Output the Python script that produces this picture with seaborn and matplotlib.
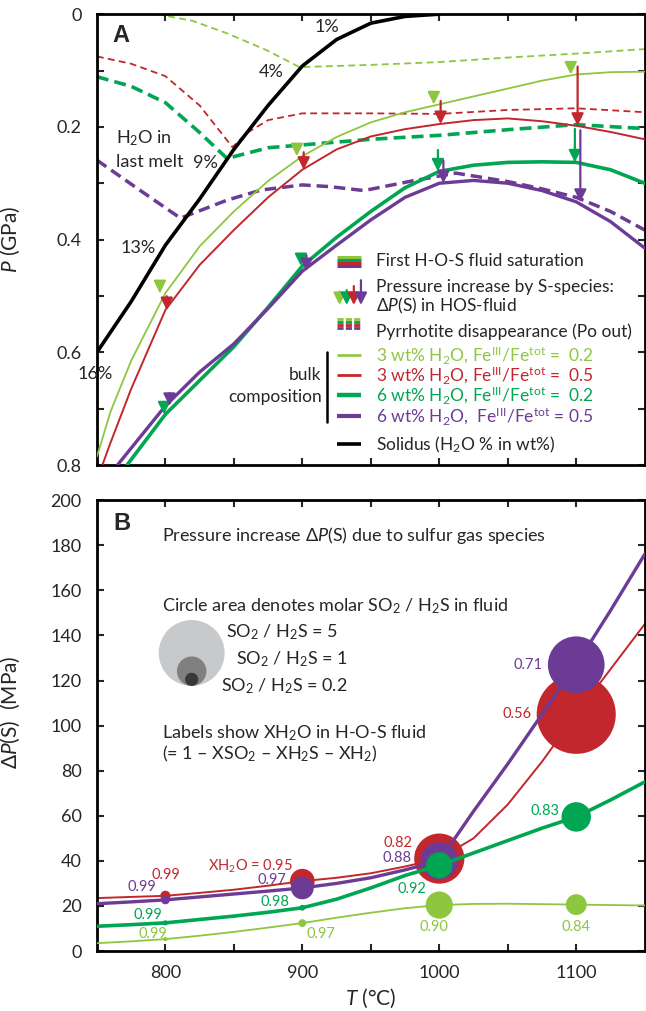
import numpy as np
import matplotlib
matplotlib.use("Agg")
import matplotlib.pyplot as plt
import matplotlib.transforms as mtransforms
from matplotlib.lines import Line2D
import seaborn as sns

# colours of the four bulk compositions
LGREEN = "#8DC63F"
RED = "#C1272D"
GREEN = "#00A651"
PURPLE = "#6C3B96"

# ---------------- panel A : P-T diagram ----------------
# solidus (GPa)
solidus_T = [750, 775, 800, 825, 850, 875, 900, 925, 950, 975, 1000]
solidus_P = [0.600, 0.510, 0.410, 0.328, 0.240, 0.162, 0.092, 0.045, 0.016, 0.004, 0.0]

# first H-O-S fluid saturation (solid lines)
lg_sat_T = [750, 760, 775, 800, 825, 850, 875, 900, 925, 950, 975, 1000, 1025, 1050, 1075, 1100, 1125, 1150]
lg_sat_P = [0.785, 0.705, 0.615, 0.495, 0.412, 0.350, 0.296, 0.252, 0.218, 0.192, 0.174, 0.160, 0.146, 0.132, 0.118, 0.107, 0.103, 0.102]
rd_sat_T = [754, 760, 775, 800, 825, 850, 875, 900, 925, 950, 975, 1000, 1025, 1050, 1075, 1100, 1125, 1150]
rd_sat_P = [0.800, 0.760, 0.665, 0.525, 0.445, 0.383, 0.325, 0.276, 0.240, 0.217, 0.204, 0.195, 0.188, 0.185, 0.190, 0.198, 0.209, 0.222]
gr_sat_T = [772, 800, 825, 850, 875, 900, 925, 950, 975, 1000, 1025, 1050, 1075, 1100, 1125, 1150]
gr_sat_P = [0.800, 0.710, 0.650, 0.590, 0.520, 0.447, 0.396, 0.350, 0.308, 0.279, 0.268, 0.263, 0.262, 0.263, 0.276, 0.300]
pu_sat_T = [765, 775, 800, 825, 850, 875, 900, 925, 950, 975, 1000, 1025, 1050, 1075, 1100, 1125, 1150]
pu_sat_P = [0.800, 0.770, 0.695, 0.635, 0.585, 0.522, 0.456, 0.410, 0.365, 0.325, 0.300, 0.295, 0.300, 0.313, 0.333, 0.368, 0.415]

# pyrrhotite disappearance (dashed lines)
lg_po_T = [794, 820, 845, 874, 898, 950, 1000, 1050, 1100, 1150]
lg_po_P = [0.000, 0.012, 0.034, 0.064, 0.094, 0.090, 0.085, 0.077, 0.070, 0.062]
rd_po_T = [750, 775, 800, 825, 849, 860, 875, 900, 950, 1000, 1050, 1100, 1150]
rd_po_P = [0.075, 0.088, 0.110, 0.162, 0.236, 0.210, 0.188, 0.176, 0.176, 0.177, 0.170, 0.167, 0.174]
gr_po_T = [750, 775, 800, 825, 845, 875, 900, 950, 1000, 1050, 1100, 1150]
gr_po_P = [0.111, 0.128, 0.157, 0.210, 0.256, 0.237, 0.232, 0.222, 0.215, 0.205, 0.196, 0.203]
pu_po_T = [750, 780, 811, 845, 870, 900, 920, 945, 980, 1012, 1050, 1075, 1100, 1125, 1150]
pu_po_P = [0.259, 0.310, 0.362, 0.330, 0.312, 0.303, 0.306, 0.313, 0.296, 0.282, 0.297, 0.310, 0.325, 0.350, 0.383]

# ---------------- panel B : pressure increase ----------------
bT = [750, 775, 800, 825, 850, 875, 900, 925, 950, 975, 1000, 1025, 1050, 1075, 1100, 1125, 1150]
lg_dP = [3.5, 4.3, 5.3, 6.8, 8.5, 10.4, 12.4, 14.8, 17.0, 19.0, 20.4, 20.9, 21.0, 20.8, 20.6, 20.4, 20.2]
gr_dP = [11.0, 11.7, 12.5, 14.0, 15.5, 17.2, 19.2, 23.0, 28.0, 33.5, 38.0, 43.5, 49.0, 54.5, 59.5, 67.0, 75.0]
rd_dP = [23.5, 24.0, 24.5, 25.8, 27.2, 29.0, 31.0, 32.5, 34.5, 37.5, 41.0, 50.0, 65.0, 84.0, 105.0, 125.0, 145.0]
pu_dP = [21.0, 21.8, 22.7, 24.0, 25.3, 26.6, 28.0, 30.0, 32.5, 36.0, 40.0, 62.0, 83.0, 105.0, 127.0, 151.0, 176.0]

circ_T = [800, 900, 1000, 1100]
lg_ratio = [0.02, 0.07, 0.85, 0.50]
gr_ratio = [0.03, 0.04, 0.80, 1.00]
rd_ratio = [0.12, 0.70, 2.90, 7.20]
pu_ratio = [0.09, 0.60, 1.60, 3.70]

lg_xh2o = ["0.99", "0.97", "0.90", "0.84"]
gr_xh2o = ["0.99", "0.98", "0.92", "0.83"]
rd_xh2o = ["0.99", "XH$_2$O = 0.95", "0.82", "0.56"]
pu_xh2o = ["0.99", "0.97", "0.88", "0.71"]

legend_ratios = [5, 1, 0.2]

# ---------------- style ----------------
sns.set_style("ticks")
plt.rcParams["font.family"] = ["Lato", "DejaVu Sans"]
plt.rcParams["mathtext.fontset"] = "custom"
plt.rcParams["mathtext.rm"] = "Lato"
plt.rcParams["mathtext.it"] = "Lato:italic"
plt.rcParams["mathtext.bf"] = "Lato:bold"
plt.rcParams["axes.linewidth"] = 2.0
plt.rcParams["axes.edgecolor"] = "black"

S_AREA = 450  # marker area (pt^2) for SO2/H2S = 1

fig = plt.figure(figsize=(6.46, 10.11), dpi=100)
axA = fig.add_axes([0.150, 0.540, 0.848, 0.446])
axB = fig.add_axes([0.150, 0.0593, 0.848, 0.446])


def draw_curve(ax, T, y, color, lw, dashes=None, z=2):
    sns.lineplot(x=T, y=y, color=color, lw=lw, ax=ax, estimator=None,
                 sort=False, zorder=z)
    line = ax.lines[-1]
    if dashes:
        line.set_dashes(dashes)
    return line


# series table built from the arrays above
series = [
    dict(c=LGREEN, sT=lg_sat_T, sP=lg_sat_P, pT=lg_po_T, pP=lg_po_P, dP=lg_dP,
         lw=1.3, dash=(3.8, 2.4), plw=1.3, off=-4),
    dict(c=RED, sT=rd_sat_T, sP=rd_sat_P, pT=rd_po_T, pP=rd_po_P, dP=rd_dP,
         lw=1.4, dash=(3.8, 2.4), plw=1.3, off=1),
    dict(c=GREEN, sT=gr_sat_T, sP=gr_sat_P, pT=gr_po_T, pP=gr_po_P, dP=gr_dP,
         lw=2.6, dash=(3.3, 1.7), plw=2.6, off=-1),
    dict(c=PURPLE, sT=pu_sat_T, sP=pu_sat_P, pT=pu_po_T, pP=pu_po_P, dP=pu_dP,
         lw=2.4, dash=(3.3, 1.7), plw=2.5, off=3),
]

# ---------------- panel A ----------------
draw_curve(axA, solidus_T, solidus_P, "black", 2.6, z=3)
for s in series:
    draw_curve(axA, s["pT"], s["pP"], s["c"], s["plw"], dashes=s["dash"], z=2)
for s in series:
    draw_curve(axA, s["sT"], s["sP"], s["c"], s["lw"], z=4)

# pressure-increase arrows ending on the saturation curves
for s in series:
    for T in circ_T:
        tip = np.interp(T, s["sT"], s["sP"])
        dp = np.interp(T, bT, s["dP"]) / 1000.0
        axA.annotate("", xy=(T + s["off"], tip), xytext=(T + s["off"], tip - dp),
                     arrowprops=dict(arrowstyle="-|>,head_length=0.6,head_width=0.3",
                                     color=s["c"], lw=1.6, mutation_scale=12,
                                     shrinkA=0, shrinkB=0), zorder=6)

# solidus water labels
fs_lab = 13
axA.text(918, 0.023, "1%", fontsize=fs_lab, ha="center", va="center")
axA.text(877, 0.103, "4%", fontsize=fs_lab, ha="center", va="center")
axA.text(829, 0.264, "9%", fontsize=fs_lab, ha="center", va="center")
axA.text(780, 0.415, "13%", fontsize=fs_lab, ha="center", va="center")
axA.text(749, 0.639, "16%", fontsize=fs_lab, ha="center", va="center", clip_on=False)
axA.text(764, 0.220, "H$_2$O in", fontsize=fs_lab, ha="left", va="center")
axA.text(764, 0.263, "last melt", fontsize=fs_lab, ha="left", va="center")
axA.text(0.044, 0.953, "A", transform=axA.transAxes, fontsize=17, fontweight="bold",
         family="Liberation Sans", ha="center", va="center")

# custom legend (axes fraction)
tA = axA.transAxes
x0, x1, xt = 0.438, 0.483, 0.509
fs_leg = 12.5
# first saturation icon
for yy, c in zip([0.462, 0.455, 0.448, 0.441], [LGREEN, GREEN, RED, PURPLE]):
    axA.add_line(Line2D([x0, x1], [yy, yy], color=c, lw=2.2, transform=tA,
                        solid_capstyle="butt"))
axA.text(xt, 0.452, "First H-O-S fluid saturation", transform=tA, fontsize=fs_leg, va="center")
# arrows icon
for xx, ytop, c in zip([0.443, 0.456, 0.469, 0.482], [0.385, 0.388, 0.397, 0.410],
                       [LGREEN, GREEN, RED, PURPLE]):
    axA.annotate("", xy=(xx, 0.355), xytext=(xx, ytop), xycoords=tA, textcoords=tA,
                 arrowprops=dict(arrowstyle="-|>,head_length=0.6,head_width=0.3",
                                 color=c, lw=1.6, mutation_scale=12,
                                 shrinkA=0, shrinkB=0))
axA.text(xt, 0.396, "Pressure increase by S-species:", transform=tA, fontsize=fs_leg, va="center")
axA.text(xt, 0.353, "Δ$P$(S) in HOS-fluid", transform=tA, fontsize=fs_leg, va="center")
# Po out icon
for yy, c in zip([0.325, 0.318, 0.311, 0.304], [LGREEN, GREEN, RED, PURPLE]):
    ln = Line2D([x0, x1], [yy, yy], color=c, lw=2.0, transform=tA, solid_capstyle="butt")
    ln.set_dashes((2.2, 0.8))
    axA.add_line(ln)
axA.text(xt, 0.296, "Pyrrhotite disappearance (Po out)", transform=tA, fontsize=fs_leg, va="center")
# composition lines
comp_labels = [
    "3 wt% H$_2$O, Fe$^{\\mathrm{III}}$/Fe$^{\\mathrm{tot}}$ =  0.2",
    "3 wt% H$_2$O, Fe$^{\\mathrm{III}}$/Fe$^{\\mathrm{tot}}$ =  0.5",
    "6 wt% H$_2$O, Fe$^{\\mathrm{III}}$/Fe$^{\\mathrm{tot}}$ =  0.2",
    "6 wt% H$_2$O,  Fe$^{\\mathrm{III}}$/Fe$^{\\mathrm{tot}}$ = 0.5",
]
for yy, s, lab in zip([0.244, 0.200, 0.155, 0.109], series, comp_labels):
    axA.add_line(Line2D([x0, x1], [yy, yy], color=s["c"], lw=s["lw"] + 0.6,
                        transform=tA, solid_capstyle="butt"))
    axA.text(xt, yy, lab, transform=tA, fontsize=fs_leg, va="center", color=s["c"])
axA.add_line(Line2D([x0, x1], [0.046, 0.046], color="black", lw=2.6, transform=tA,
                    solid_capstyle="butt"))
axA.text(xt, 0.046, "Solidus (H$_2$O % in wt%)", transform=tA, fontsize=fs_leg, va="center")
axA.add_line(Line2D([0.420, 0.420], [0.095, 0.250], color="black", lw=1.8, transform=tA))
axA.text(0.410, 0.200, "bulk", transform=tA, fontsize=fs_leg, ha="right", va="center")
axA.text(0.410, 0.150, "composition", transform=tA, fontsize=fs_leg, ha="right", va="center")

axA.set_xlim(750, 1150)
axA.set_ylim(0.8, 0)
axA.set_xticks([800, 900, 1000, 1100])
axA.set_xticks([850, 950, 1050], minor=True)
axA.set_yticks([0, 0.2, 0.4, 0.6, 0.8])
axA.set_yticklabels(["0", "0.2", "0.4", "0.6", "0.8"])
axA.set_yticks([0.1, 0.3, 0.5, 0.7], minor=True)
axA.tick_params(which="both", direction="in", length=5, width=1.5, top=True, right=True,
                labelbottom=False, labelsize=13)
axA.tick_params(axis="y", pad=11)
axA.set_xlabel("")
axA.set_ylabel("$P$ (GPa)", fontsize=15)
axA.yaxis.set_label_coords(-0.137, 0.5)

# ---------------- panel B ----------------
lab_offsets = {
    RED: [((0, 15), "center"), ((-7, 11), "right"), ((-19, 11), "right"), ((-32, 0), "right")],
    PURPLE: [((-6.5, 9), "right"), ((-11.5, 6), "right"), ((-20, 2), "right"), ((-24, 0), "right")],
    GREEN: [((-2, 6), "right"), ((-9, 4), "right"), ((-9, -17), "right"), ((-12, 4), "right")],
    LGREEN: [((-9, 3.5), "center"), ((3, -8), "left"), ((-4, -16), "center"), ((0, -16), "center")],
}
b_series = [
    (RED, rd_dP, rd_ratio, rd_xh2o, 1.4),
    (PURPLE, pu_dP, pu_ratio, pu_xh2o, 2.4),
    (GREEN, gr_dP, gr_ratio, gr_xh2o, 2.6),
    (LGREEN, lg_dP, lg_ratio, lg_xh2o, 1.3),
]
for k, (c, dP, ratio, xlab, lw) in enumerate(b_series):
    draw_curve(axB, bT, dP, c, lw, z=2 + 2 * k)
    cy = np.interp(circ_T, bT, dP)
    sns.scatterplot(x=circ_T, y=cy, s=np.array(ratio) * S_AREA, color=c,
                    edgecolor="none", linewidth=0, ax=axB, zorder=3 + 2 * k, legend=False)
    for T, yv, lab, (off, ha) in zip(circ_T, cy, xlab, lab_offsets[c]):
        axB.annotate(lab, xy=(T, yv), xytext=off, textcoords="offset points",
                     ha=ha, va="center", color=c, fontsize=10.5, zorder=12)

tB = axB.transAxes
fs_b = 13
axB.text(0.119, 0.922, "Pressure increase Δ$P$(S) due to sulfur gas species", transform=tB,
         fontsize=fs_b, va="center")
axB.text(0.119, 0.765, "Circle area denotes molar SO$_2$ / H$_2$S in fluid", transform=tB,
         fontsize=fs_b, va="center")
for r, col in zip(legend_ratios, ["#C8C9CB", "#808080", "#383838"]):
    d = np.sqrt(r * S_AREA)
    tr = mtransforms.offset_copy(tB, fig=fig, y=d / 2, units="points")
    axB.scatter([0.173], [0.588], s=r * S_AREA, color=col, edgecolor="none",
                transform=tr, zorder=5, clip_on=False)
axB.text(0.235, 0.707, "SO$_2$ / H$_2$S = 5", transform=tB, fontsize=fs_b, va="center")
axB.text(0.254, 0.647, "SO$_2$ / H$_2$S = 1", transform=tB, fontsize=fs_b, va="center")
axB.text(0.226, 0.588, "SO$_2$ / H$_2$S = 0.2", transform=tB, fontsize=fs_b, va="center")
axB.text(0.119, 0.483, "Labels show XH$_2$O in H-O-S fluid", transform=tB, fontsize=fs_b, va="center")
axB.text(0.119, 0.437, "(= 1 – XSO$_2$ – XH$_2$S – XH$_2$)", transform=tB, fontsize=fs_b, va="center")
axB.text(0.046, 0.949, "B", transform=tB, fontsize=17, fontweight="bold",
         family="Liberation Sans", ha="center", va="center")

axB.set_xlim(750, 1150)
axB.set_ylim(0, 200)
axB.set_xticks([800, 900, 1000, 1100])
axB.set_xticks([850, 950, 1050], minor=True)
axB.set_yticks(np.arange(0, 201, 20))
axB.tick_params(which="both", direction="in", length=5, width=1.5, top=True, right=True,
                labelsize=13)
axB.tick_params(axis="y", pad=11)
axB.tick_params(axis="x", pad=10)
axB.set_xlabel("$T$ (°C)", fontsize=15)
axB.xaxis.label.set_va("center")
axB.xaxis.set_label_coords(0.5, -0.104)
axB.set_ylabel("Δ$P$(S)  (MPa)", fontsize=15)
axB.yaxis.set_label_coords(-0.137, 0.53)

fig.savefig("out.png", dpi=100)
